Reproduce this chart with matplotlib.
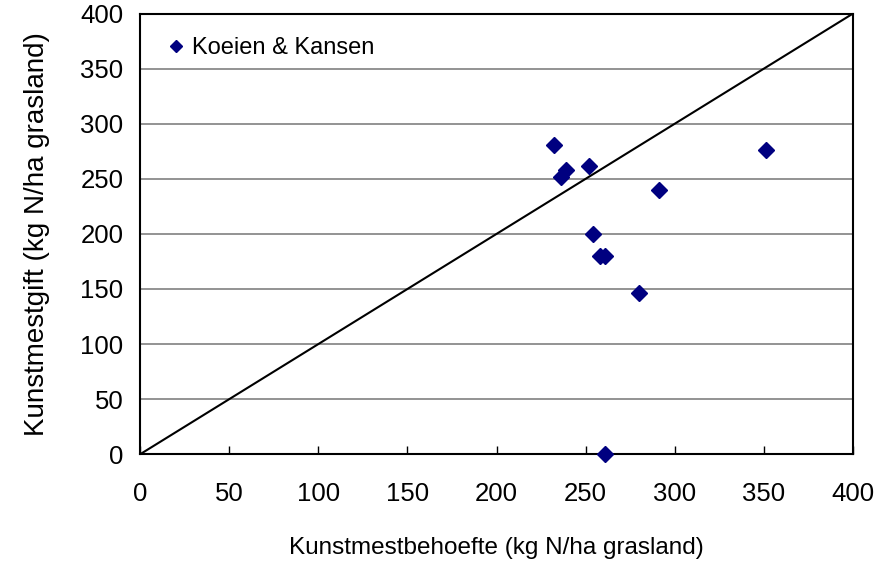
import matplotlib.pyplot as plt
import numpy as np

# Koeien & Kansen farms
behoefte = [232, 236, 239, 252, 254, 258, 261, 280, 291, 351, 261]
gift = [281, 252, 258, 262, 200, 180, 180, 146, 240, 276, 0]
ticks = [0, 50, 100, 150, 200, 250, 300, 350, 400]

plt.rcParams['font.family'] = ['Liberation Sans', 'DejaVu Sans']

fig = plt.figure(figsize=(8.82, 5.67), dpi=100)
ax = fig.add_axes([0.159, 0.199, 0.808, 0.777])

for t in ticks[1:-1]:
    ax.axhline(t, color='#808080', lw=1.2, zorder=1)

ax.plot([0, 400], [0, 400], color='black', lw=1.5, zorder=2)
ax.plot(behoefte, gift, linestyle='none', marker='D', markersize=8,
        color='#000080', label='Koeien & Kansen', zorder=3, clip_on=False)

ax.set_xlim(0, 400)
ax.set_ylim(0, 400)
ax.set_xticks(ticks)
ax.set_yticks(ticks)
ax.tick_params(axis='x', direction='in', length=6, width=1, pad=20, labelsize=18.5)
ax.tick_params(axis='y', length=0, pad=12, labelsize=18.5)
for s in ax.spines.values():
    s.set_linewidth(1.5)

ax.set_xlabel('Kunstmestbehoefte (kg N/ha grasland)', fontsize=17.5, labelpad=22)
ax.set_ylabel('Kunstmestgift (kg N/ha grasland)', fontsize=20, labelpad=22)

ax.legend(loc='upper left', frameon=False, fontsize=17, handlelength=1.0,
          handletextpad=0.2, borderaxespad=0.6, markerscale=0.8)

plt.savefig('out.png', dpi=100)
